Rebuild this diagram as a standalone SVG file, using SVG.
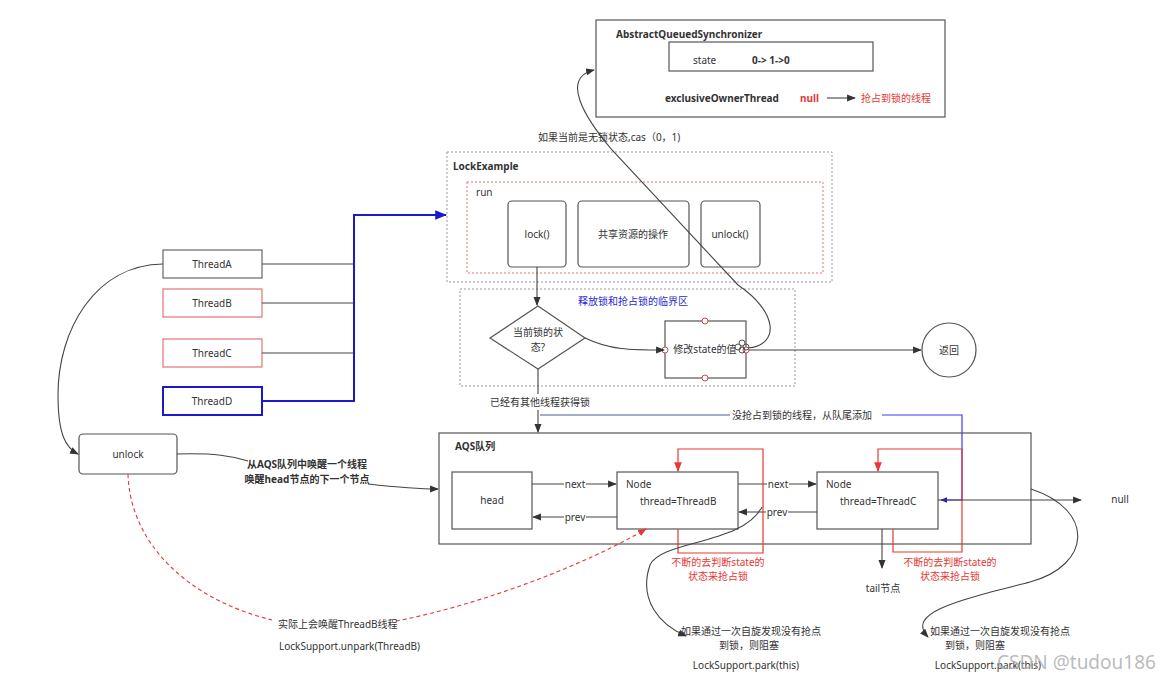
<svg xmlns="http://www.w3.org/2000/svg" width="1173" height="680" viewBox="0 0 1173 680">
<style>
text{font-family:"Noto Sans","Noto Sans CJK SC",sans-serif;font-size:10px;fill:#333}
.b{font-weight:bold}
.r{fill:#e53935}
.bl{fill:#2b2bd6}
.c{text-anchor:middle}
.box{fill:#fff;stroke:#555;stroke-width:1.2}
.ln{fill:none;stroke:#444;stroke-width:1.1}
.red{fill:none;stroke:#e53935;stroke-width:1.2}
.blue{fill:none;stroke:#1a1acc;stroke-width:2}
.dot{fill:none;stroke:#999;stroke-width:1;stroke-dasharray:2 2}
</style>
<defs>
<marker id="a" viewBox="0 0 10 10" refX="9" refY="5" markerWidth="8" markerHeight="8" orient="auto"><path d="M0,1 L10,5 L0,9 z" fill="#333"/></marker>
<marker id="ab" viewBox="0 0 10 10" refX="9" refY="5" markerWidth="6" markerHeight="6" orient="auto"><path d="M0,1 L10,5 L0,9 z" fill="#1a1acc"/></marker>
<marker id="ar" viewBox="0 0 10 10" refX="9" refY="5" markerWidth="8" markerHeight="8" orient="auto"><path d="M0,1 L10,5 L0,9 z" fill="#e53935"/></marker>
</defs>
<rect width="1173" height="680" fill="#fff"/>

<g id="aqs">
<rect x="596" y="20" width="349" height="97" class="box"/>
<text x="616" y="38" class="b">AbstractQueuedSynchronizer</text>
<rect x="669" y="42" width="204" height="29" class="box"/>
<text x="693" y="64">state</text>
<text x="752" y="64" class="b">0-&gt; 1-&gt;0</text>
<text x="665" y="102" class="b">exclusiveOwnerThread</text>
<text x="800" y="102" class="b r">null</text>
<path d="M827 98 L855 98" class="ln" marker-end="url(#a)"/>
<text x="861" y="102" class="r">抢占到锁的线程</text>
</g>

<g id="lockexample">
<rect x="447" y="152" width="385" height="130" class="dot"/>
<text x="453" y="170" class="b">LockExample</text>
<rect x="467" y="182" width="356" height="91" fill="none" stroke="#e57373" stroke-width="1" stroke-dasharray="2 2"/>
<text x="476" y="196">run</text>
</g>
<g id="lock"><rect x="508" y="201" width="58" height="66" rx="4" class="box"/><text x="537" y="238" class="c">lock()</text></g>
<g id="share"><rect x="578" y="201" width="111" height="66" rx="4" class="box"/><text x="633" y="238" class="c">共享资源的操作</text></g>
<g id="unlockm"><rect x="701" y="201" width="59" height="66" rx="4" class="box"/><text x="730" y="238" class="c">unlock()</text></g>

<g id="critical">
<rect x="460" y="289" width="335" height="97" class="dot"/>
<text x="633" y="305" class="c bl">释放锁和抢占锁的临界区</text>
</g>
<g id="diamond">
<path d="M538 306 L585 338 L538 369 L490 338 Z" class="box"/>
<text x="538" y="336" class="c">当前锁的状</text>
<text x="538" y="351" class="c">态?</text>
</g>
<g id="modify">
<rect x="665" y="321" width="81" height="57" class="box"/>
<text x="705" y="353" class="c">修改state的值</text>
<g fill="#fff" stroke="#c0504d" stroke-width="1"><circle cx="705" cy="321" r="3"/><circle cx="705" cy="378" r="3"/><circle cx="665" cy="350" r="3"/><circle cx="746" cy="350" r="3"/></g>
<g stroke="#555" fill="none" stroke-width="1"><circle cx="742" cy="343" r="3"/><circle cx="742" cy="350" r="3"/><circle cx="738" cy="347" r="3"/><circle cx="746" cy="347" r="3"/></g>
</g>
<g id="return"><circle cx="949" cy="350" r="27" class="box"/><text x="949" y="354" class="c">返回</text></g>

<g id="threads">
<g id="ta"><rect x="163" y="250" width="99" height="28" fill="#fff" stroke="#666" stroke-width="1.2"/><text x="212" y="268" class="c">ThreadA</text></g>
<g id="tb"><rect x="163" y="289" width="99" height="28" fill="#fff" stroke="#e57373" stroke-width="1.2"/><text x="212" y="307" class="c">ThreadB</text></g>
<g id="tc"><rect x="163" y="339" width="99" height="28" fill="#fff" stroke="#e57373" stroke-width="1.2"/><text x="212" y="357" class="c">ThreadC</text></g>
<g id="td"><rect x="163" y="387" width="99" height="28" fill="#fff" stroke="#1a1acc" stroke-width="2"/><text x="212" y="405" class="c">ThreadD</text></g>
</g>
<g id="unlock"><rect x="79" y="434" width="98" height="40" rx="4" class="box"/><text x="128" y="458" class="c">unlock</text></g>

<g id="queue">
<rect x="439" y="433" width="592" height="111" class="box"/>
<text x="455" y="450" class="b">AQS队列</text>
</g>
<g id="head"><rect x="452" y="472" width="80" height="57" class="box"/><text x="492" y="504" class="c">head</text></g>
<g id="nodeb"><rect x="617" y="472" width="121" height="57" class="box"/><text x="626" y="488">Node</text><text x="640" y="505">thread=ThreadB</text></g>
<g id="nodec"><rect x="817" y="472" width="121" height="57" class="box"/><text x="826" y="488">Node</text><text x="840" y="505">thread=ThreadC</text></g>

<g id="connectors">
<path d="M748 348 C780 345, 778 312, 738 285 L612 150 C585 118, 560 78, 594 70" class="ln" marker-end="url(#a)"/>
<path d="M537 267 L537 305" class="ln" marker-end="url(#a)"/>
<path d="M585 338 C610 350, 630 350, 664 350" class="ln" marker-end="url(#a)"/>
<path d="M749 350 L921 350" class="ln" marker-end="url(#a)"/>
<path d="M538 369 L538 394" class="ln"/>
<path d="M538 410 L538 432" class="ln" marker-end="url(#a)"/>
<path d="M540 415 L730 415" fill="none" stroke="#4a5a9a" stroke-width="1.2"/>
<path d="M882 415 L962 415 L962 500 L941 500" fill="none" stroke="#3a3aff" stroke-width="1.2" marker-end="url(#ab)"/>

<path d="M262 264 L354 264 M262 303 L354 303 M262 353 L354 353" class="ln" stroke="#666"/>
<path d="M262 401 L354 401 L354 215 L446 215" class="blue" marker-end="url(#ab)"/>
<path d="M163 264 C95 265, 58 330, 58 395 C58 435, 66 448, 78 454" class="ln" stroke="#777" marker-end="url(#a)"/>
<path d="M177 454 C215 453, 232 456, 248 461" class="ln"/>
<path d="M368 484 C395 487, 415 489, 438 489" class="ln" marker-end="url(#a)"/>
<path d="M128 474 C130 545, 190 600, 272 620" fill="none" stroke="#e53935" stroke-width="1.1" stroke-dasharray="4 3"/>
<path d="M396 621 C480 605, 585 565, 646 529" fill="none" stroke="#e53935" stroke-width="1.1" stroke-dasharray="4 3" marker-end="url(#ar)"/>

<path d="M532 484 L616 484" class="ln" marker-end="url(#a)"/>
<path d="M617 517 L533 517" class="ln" marker-end="url(#a)"/>
<path d="M738 484 L816 484" class="ln" marker-end="url(#a)"/>
<path d="M817 512 L739 512" class="ln" marker-end="url(#a)"/>
<path d="M678 529 L678 553 L763 553 L763 449 L678 449 L678 471" class="red" marker-end="url(#ar)"/>
<path d="M893 529 L893 552 L962 552 L962 449 L878 449 L878 471" class="red" marker-end="url(#ar)"/>
<path d="M882 529 L882 568" class="ln" marker-end="url(#a)"/>
<path d="M938 500 L1081 500" class="ln" marker-end="url(#a)"/>
<path d="M762 507 C742 545, 662 540, 650 565 C638 600, 660 625, 686 636" class="ln" marker-end="url(#a)"/>
<path d="M1031 489 C1095 510, 1092 565, 1030 582 C960 600, 905 612, 928 637" class="ln" marker-end="url(#a)"/>
</g>

<g id="labels">
<text x="538" y="141">如果当前是无锁状态,cas（0，1)</text>
<text x="540" y="406" class="c">已经有其他线程获得锁</text>
<rect x="731" y="408" width="150" height="14" fill="#fff"/>
<text x="732" y="419">没抢占到锁的线程，从队尾添加</text>
<rect x="564" y="478" width="22" height="12" fill="#fff"/>
<text x="575" y="488" class="c">next</text>
<rect x="564" y="511" width="22" height="12" fill="#fff"/>
<text x="575" y="521" class="c">prev</text>
<rect x="767" y="478" width="22" height="12" fill="#fff"/>
<text x="778" y="488" class="c">next</text>
<rect x="766" y="506" width="22" height="12" fill="#fff"/>
<text x="777" y="516" class="c">prev</text>
<text x="307" y="468" class="c b">从AQS队列中唤醒一个线程</text>
<text x="307" y="483" class="c b">唤醒head节点的下一个节点</text>
<text x="718" y="566" class="c r">不断的去判断state的</text>
<text x="718" y="580" class="c r">状态来抢占锁</text>
<text x="950" y="566" class="c r">不断的去判断state的</text>
<text x="950" y="580" class="c r">状态来抢占锁</text>
<text x="1120" y="503" class="c">null</text>
<text x="883" y="592" class="c">tail节点</text>
<text x="278" y="628">实际上会唤醒ThreadB线程</text>
<text x="279" y="650">LockSupport.unpark(ThreadB)</text>
<text x="751" y="635" class="c">如果通过一次自旋发现没有抢点</text>
<text x="749" y="649" class="c">到锁，则阻塞</text>
<text x="746" y="669" class="c">LockSupport.park(this)</text>
<text x="1000" y="635" class="c">如果通过一次自旋发现没有抢点</text>
<text x="975" y="649" class="c">到锁，则阻塞</text>
<text x="988" y="669" class="c">LockSupport.park(this)</text>
<text x="997" y="669" style="font-size:19px;fill:#aaa;fill-opacity:0.8">CSDN @tudou186</text>
</g>
</svg>
